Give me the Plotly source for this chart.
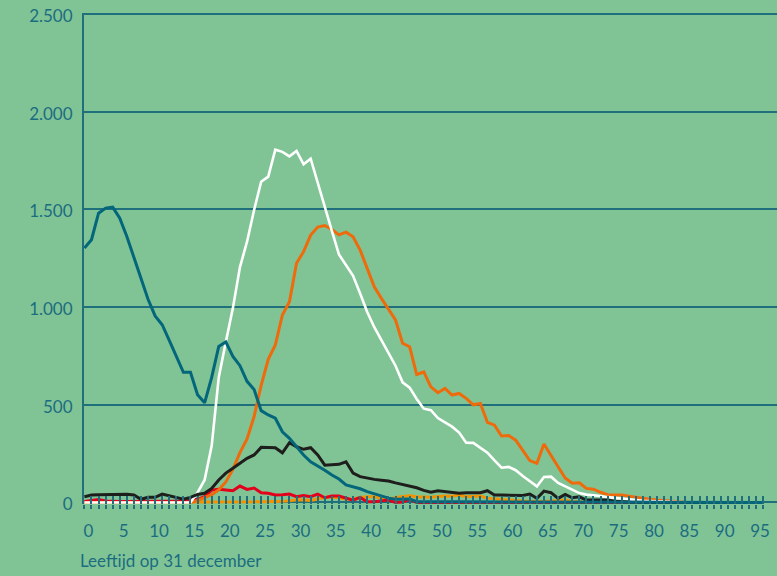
import plotly.graph_objects as go

# Age on 31 December (one point per year)
ages = list(range(97))
x_tick_labels = [str(a) if a % 5 == 0 and a <= 95 else "" for a in ages]
y_tick_values = [0, 500, 1000, 1500, 2000, 2500]
y_tick_labels = ["0", "500", "1.000", "1.500", "2.000", "2.500"]

teal_values = [
    1302, 1345, 1481, 1507, 1512, 1455, 1362, 1251, 1140, 1040,
    955, 910, 830, 748, 666, 666, 552, 510, 640, 799,
    822, 748, 700, 620, 578, 470, 448, 431, 362, 328,
    285, 243, 208, 188, 165, 140, 120, 90, 80, 70,
    55, 44, 35, 22, 16, 16, 18, 4, 3, 3,
    3, 3, 3, 3, 3, 3, 3, 3, 3, 3,
    3, 3, 3, 2, 2, 2, 2, 2, 2, 2,
    2, 2, 1, 1, 1, 1, 1, 1, 1, 1,
    0, 0, 0, 0, 0, 0, 0, 0, 0, 0,
    0, 0, 0, 0, 0, 0, 0,
]
white_values = [
    0, 0, 0, 0, 0, 0, 0, 0, 0, 0,
    0, 0, 0, 0, 0, 0, 50, 115, 290, 640,
    822, 995, 1205, 1335, 1497, 1642, 1668, 1806, 1795, 1772,
    1800, 1731, 1760, 1634, 1520, 1390, 1270, 1216, 1160, 1070,
    975, 897, 832, 770, 700, 615, 588, 530, 480, 472,
    432, 410, 388, 358, 306, 305, 280, 255, 215, 178,
    182, 165, 135, 110, 82, 130, 132, 100, 82, 62,
    48, 40, 38, 33, 27, 23, 19, 16, 12, 9,
    7, 5, 4, 3, 2, 1, 0, 0, 0, 0,
    0, 0, 0, 0, 0, 0, 0,
]
orange_values = [
    0, 0, 0, 0, 0, 0, 0, 0, 0, 0,
    0, 0, 0, 0, 0, 0, 10, 25, 40, 65,
    105, 170, 255, 325, 440, 600, 733, 806, 960, 1028,
    1225, 1284, 1369, 1410, 1418, 1398, 1370, 1384, 1360, 1292,
    1200, 1104, 1045, 988, 935, 815, 797, 655, 668, 592,
    562, 584, 550, 558, 533, 500, 507, 410, 396, 340,
    343, 319, 268, 214, 200, 299, 240, 183, 125, 98,
    101, 72, 68, 52, 40, 38, 38, 32, 26, 21,
    16, 12, 8, 5, 3, 1, 0, 0, 0, 0,
    0, 0, 0, 0, 0, 0, 0,
]
black_values = [
    29, 38, 40, 41, 42, 43, 42, 38, 16, 26,
    26, 43, 33, 26, 17, 26, 41, 47, 72, 115,
    150, 175, 200, 226, 243, 282, 281, 280, 254, 306,
    285, 272, 280, 243, 191, 192, 195, 208, 150, 132,
    124, 118, 114, 110, 100, 92, 84, 75, 62, 52,
    60, 55, 50, 47, 49, 50, 50, 60, 38, 38,
    38, 35, 36, 43, 21, 58, 50, 21, 41, 24,
    29, 12, 12, 12, 12, 6, 3, 2, 1, 0,
    0, 0, 0, 0, 0, 0, 0, 0, 0, 0,
    0, 0, 0, 0, 0, 0, 0,
]
red_values = [
    5, 10, 15, 8, 5, 5, 5, 5, 5, 8,
    8, 6, 6, 5, 8, 12, 16, 29, 63, 67,
    62, 60, 84, 67, 74, 50, 47, 38, 40, 43,
    29, 36, 29, 43, 24, 33, 33, 21, 12, 26,
    4, 4, 8, 12, 0, 2, 16, 0, 0, 0,
    0, 0, 0, 0, 0, 0, 0, 0, 0, 0,
    0, 0, 0, 0, 0, 0, 0, 0, 0, 0,
    0, 0, 0, 0, 0, 0, 0, 0, 0, 0,
    0, 0, 0, 0, 0, 0, 0, 0, 0, 0,
    0, 0, 0, 0, 0, 0, 0,
]
amber_values = [
    0, 0, 0, 0, 0, 0, 0, 0, 0, 0,
    0, 0, 0, 0, 0, 0, 0, 0, 1, 2,
    2, 2, 3, 3, 3, 4, 4, 5, 6, 8,
    14, 12, 10, 18, 26, 26, 24, 16, 16, 25,
    29, 29, 22, 16, 26, 30, 34, 29, 27, 26,
    30, 33, 32, 38, 29, 31, 33, 22, 19, 17,
    12, 8, 7, 6, 5, 5, 7, 10, 12, 5,
    2, 1, 0, 0, 0, 0, 0, 0, 0, 0,
    0, 0, 0, 0, 0, 0, 0, 0, 0, 0,
    0, 0, 0, 0, 0, 0, 0,
]

BG = "#80C496"
AXIS = "#1F6F7C"
TEXT = "#1C6C80"
FONT = "Lato, 'Open Sans', sans-serif"

series = [
    (amber_values, "#F39200", 3),
    (red_values, "#E3001B", 3),
    (orange_values, "#EF6A0A", 3),
    (white_values, "#FFFFFF", 2.6),
    (black_values, "#1E1E1C", 3),
    (teal_values, "#03667A", 3),
]

fig = go.Figure()
for values, color, width in series:
    fig.add_trace(go.Scatter(
        x=ages, y=values, mode="lines",
        line=dict(color=color, width=width),
        hoverinfo="skip", showlegend=False,
    ))

x_range = [-0.06, 97.96]

fig.update_layout(
    width=777, height=576,
    margin=dict(l=84, r=0, t=13, b=72),
    paper_bgcolor=BG, plot_bgcolor=BG,
    font=dict(family=FONT, color=TEXT, size=17),
    xaxis=dict(
        range=x_range, tickmode="array", tickvals=ages, ticktext=x_tick_labels,
        ticks="outside", ticklen=4, tickwidth=1.6, tickcolor=AXIS,
        ticklabelshift=4, ticklabelstandoff=8,
        showgrid=False, zeroline=False, showline=False,
        tickfont=dict(size=17, color=TEXT),
    ),
    xaxis2=dict(
        overlaying="x", anchor="y", side="bottom", range=x_range,
        tickmode="array", tickvals=ages, ticks="inside", ticklen=8,
        tickwidth=1.6, tickcolor=AXIS, showticklabels=False,
        showgrid=False, zeroline=False, showline=False,
    ),
    yaxis=dict(
        range=[-8, 2506], tickmode="array", tickvals=y_tick_values,
        ticktext=y_tick_labels, ticks="", showgrid=True, gridcolor=AXIS,
        gridwidth=1.8, zeroline=True, zerolinecolor=AXIS, zerolinewidth=1.8,
        showline=True, linecolor=AXIS, linewidth=2,
        ticklabelstandoff=6, ticklabelshift=2,
        tickfont=dict(size=17, color=TEXT),
    ),
    annotations=[dict(
        text="Leeftijd op 31 december", xref="paper", yref="paper",
        x=-6 / 693, y=-56 / 491, xanchor="left", yanchor="middle",
        showarrow=False, font=dict(size=17, color=TEXT, family=FONT),
    )],
)

# invisible trace to activate the overlaid tick axis
fig.add_trace(go.Scatter(x=[0], y=[0], xaxis="x2", mode="markers",
                         marker=dict(opacity=0), hoverinfo="skip", showlegend=False))

fig.write_html("out.html")
